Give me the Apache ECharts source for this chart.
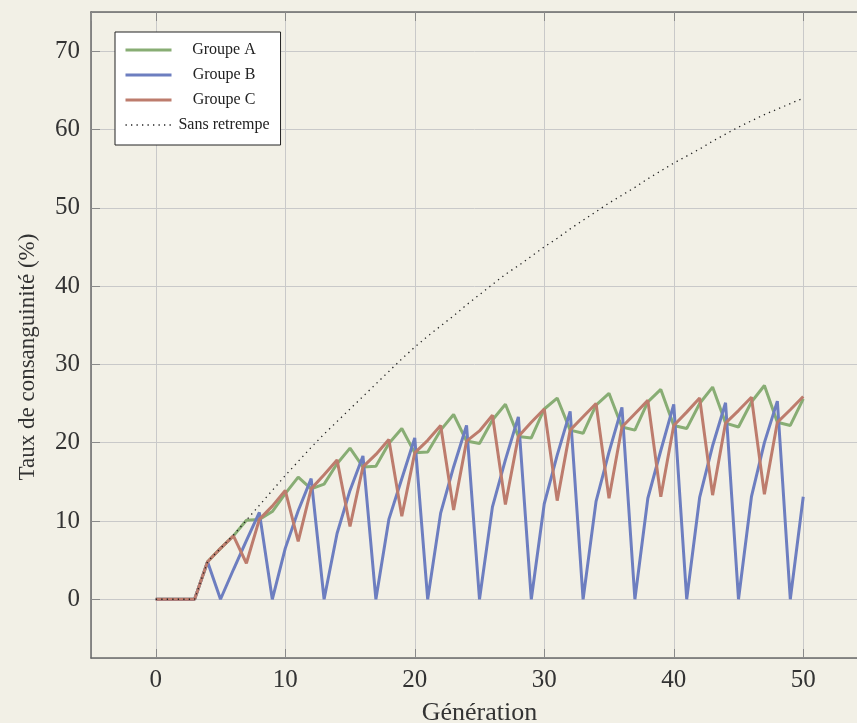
<!DOCTYPE html>
<html>
<head>
<meta charset="utf-8">
<script src="https://cdn.jsdelivr.net/npm/echarts@6/dist/echarts.min.js"></script>
<style>
html,body{margin:0;padding:0;background:#f2f0e6;}
#chart{width:857px;height:723px;}
</style>
</head>
<body>
<div id="chart"></div>
<script>
// Generations (x values)
var generations = [0,1,2,3,4,5,6,7,8,9,10,11,12,13,14,15,16,17,18,19,20,21,22,23,24,25,26,27,28,29,30,31,32,33,34,35,36,37,38,39,40,41,42,43,44,45,46,47,48,49,50];
// Groupe A (%)
var groupeA = [0,0,0,0,4.8,6.5,8.1,10.1,10.2,11.2,13.5,15.6,14.1,14.7,17.3,19.3,16.9,17.0,19.9,21.8,18.7,18.8,21.6,23.6,20.2,19.9,22.9,24.9,20.8,20.6,24.3,25.7,21.6,21.2,24.8,26.3,22.0,21.6,25.2,26.8,22.2,21.8,25.0,27.1,22.5,22.0,25.2,27.3,22.6,22.2,25.6];
// Groupe B (%)
var groupeB = [0,0,0,0,4.8,0,3.8,7.5,11.1,0,6.5,11.3,15.4,0,8.4,13.9,18.3,0,10.2,15.4,20.6,0,11.0,16.9,22.2,0,11.8,17.8,23.3,0,12.2,18.4,24.0,0,12.5,18.8,24.5,0,12.9,19.0,24.9,0,13.0,19.6,25.1,0,13.1,20.0,25.3,0,13.1];
// Groupe C (%)
var groupeC = [0,0,0,0,4.8,6.5,8.1,4.6,10.2,11.9,13.9,7.4,14.1,15.9,17.8,9.3,16.9,18.5,20.4,10.6,18.7,20.3,22.2,11.4,20.2,21.5,23.5,12.1,20.8,22.6,24.3,12.6,21.6,23.3,25.0,12.9,22.0,23.7,25.4,13.1,22.2,23.9,25.7,13.3,22.5,24.1,25.8,13.4,22.6,24.2,25.9];
// Sans retrempe (%)
var sansRetrempe = [0,0,0,0,4.8,6.5,8.2,10.1,12.0,13.9,15.8,17.6,19.4,21.1,22.7,24.3,25.9,27.5,29.1,30.7,32.2,33.6,34.9,36.2,37.6,38.9,40.2,41.5,42.6,43.8,45.0,46.1,47.3,48.4,49.5,50.6,51.6,52.6,53.7,54.7,55.7,56.6,57.5,58.5,59.4,60.3,61.1,61.9,62.6,63.3,64.0];

var seriesNames = ['Groupe A','Groupe B','Groupe C','Sans retrempe'];
var seriesColors = ['#88ad74','#6d7ec0','#bd7c6d','#222222'];
var seriesWidths = [3, 3, 3, 1.3];

function pairs(vals){ return generations.map(function(g,i){ return [g, vals[i]]; }); }

var FONT = '"Liberation Serif","DejaVu Serif",serif';
var chart = echarts.init(document.getElementById('chart'), null, {renderer:'canvas'});

var tickStyle = {show:true, inside:true, length:9, lineStyle:{color:'#8a8a8a', width:1}};
var spine = {show:true, onZero:false, lineStyle:{color:'#6a6a6a', width:1.5}};

chart.setOption({
  animation:false,
  backgroundColor:'#f2f0e6',
  grid:{left:91, top:12, width:777, height:646, containLabel:false, outerBoundsMode:'none'},
  xAxis:[{
    type:'value', min:-5, max:55, splitNumber:6, minInterval:10, maxInterval:10,
    position:'bottom',
    axisLine:spine, axisTick:tickStyle,
    axisLabel:{showMinLabel:false, showMaxLabel:false, margin:10, color:'#333', fontFamily:FONT, fontSize:25},
    splitLine:{show:true, lineStyle:{color:'#c9c9c9', width:1}},
    name:'Génération', nameLocation:'middle', nameGap:42,
    nameTextStyle:{color:'#333', fontFamily:FONT, fontSize:26}
  },{
    type:'value', min:-5, max:55, splitNumber:6, minInterval:10, maxInterval:10,
    position:'top',
    axisLine:spine, axisTick:tickStyle,
    axisLabel:{show:false}, splitLine:{show:false}
  }],
  yAxis:{
    type:'value', min:-7.5, max:75, splitNumber:8, minInterval:10, maxInterval:10,
    axisLine:spine, axisTick:tickStyle,
    axisLabel:{showMinLabel:false, showMaxLabel:false, margin:11, color:'#333', fontFamily:FONT, fontSize:25},
    splitLine:{show:true, lineStyle:{color:'#c9c9c9', width:1}},
    name:'Taux de consanguinité (%)', nameLocation:'middle', nameGap:52, nameRotate:90,
    nameTextStyle:{color:'#333', fontFamily:FONT, fontSize:23, padding:[0,44,0,0]}
  },
  legend:{
    orient:'vertical', left:115, top:32,
    itemWidth:46, itemHeight:14, itemGap:9,
    padding:[10,11,12,9],
    backgroundColor:'#ffffff', borderColor:'#222', borderWidth:1, borderRadius:0,
    itemStyle:{opacity:0},
    data:seriesNames.map(function(n,i){ return {name:n, lineStyle:{width:seriesWidths[i]}}; }),
    formatter:function(n){ return '{c|' + n + '}'; },
    textStyle:{color:'#222', fontFamily:FONT, fontSize:16,
      rich:{c:{width:95, align:'center', color:'#222', fontFamily:FONT, fontSize:16}}}
  },
  series:[
    {name:seriesNames[0], type:'line', data:pairs(groupeA), symbol:'none', color:seriesColors[0], lineStyle:{color:seriesColors[0], width:seriesWidths[0]}, z:2},
    {name:seriesNames[1], type:'line', data:pairs(groupeB), symbol:'none', color:seriesColors[1], lineStyle:{color:seriesColors[1], width:seriesWidths[1]}, z:3},
    {name:seriesNames[2], type:'line', data:pairs(groupeC), symbol:'none', color:seriesColors[2], lineStyle:{color:seriesColors[2], width:seriesWidths[2]}, z:4},
    {name:seriesNames[3], type:'line', data:pairs(sansRetrempe), symbol:'none', color:seriesColors[3], lineStyle:{color:seriesColors[3], width:seriesWidths[3], type:[1.3,4.2]}, z:5}
  ]
});
</script>
</body>
</html>
